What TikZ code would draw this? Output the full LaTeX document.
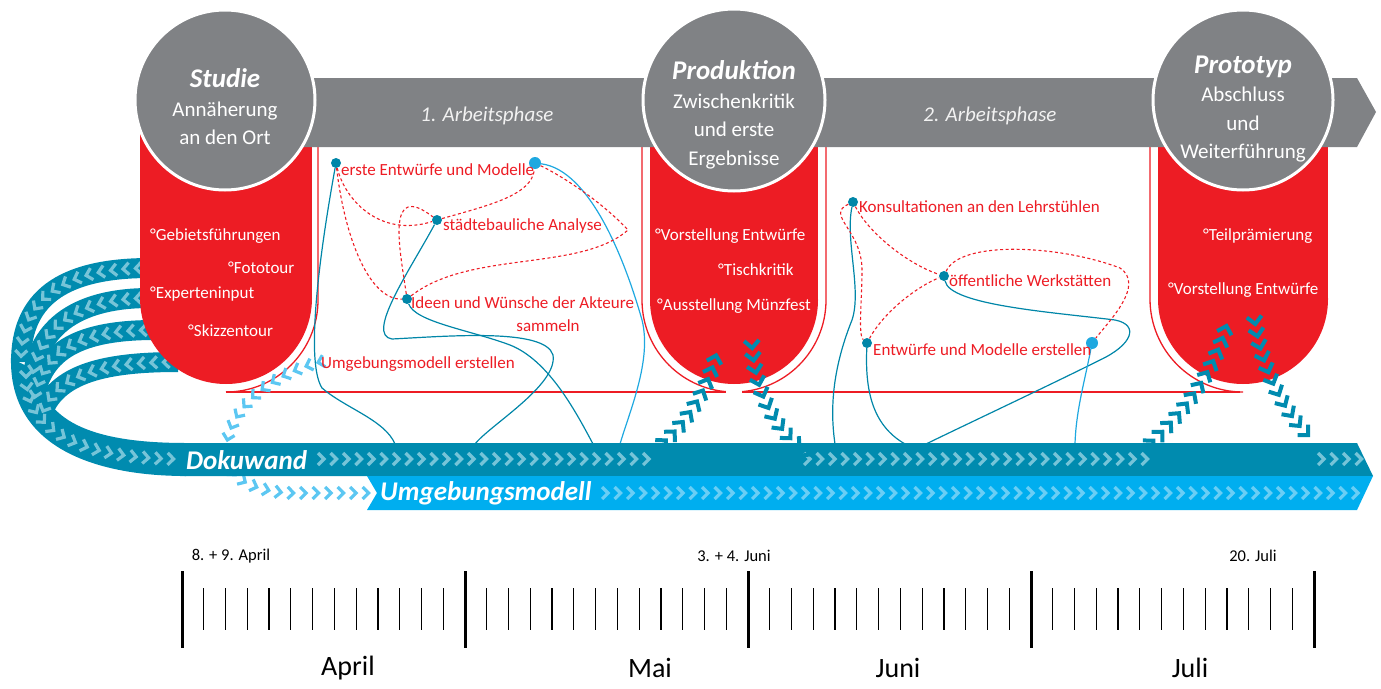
\documentclass[tikz,border=0pt]{standalone}
\usepackage{fontspec}
\setmainfont{Carlito}
\usetikzlibrary{decorations.markings}

\definecolor{phasegrey}{RGB}{128,130,133}
\definecolor{studred}{RGB}{237,28,36}
\definecolor{dokuteal}{RGB}{0,139,175}
\definecolor{modellblue}{RGB}{0,174,239}
\definecolor{chevteal}{RGB}{118,196,216}
\definecolor{chevblue}{RGB}{105,206,245}
\definecolor{freeblue}{RGB}{92,199,242}
\definecolor{linkteal}{RGB}{0,134,168}
\definecolor{linkblue}{RGB}{30,168,224}

\newcommand{\phasetitlefont}{\fontsize{27}{29}\selectfont\bfseries\itshape}

\tikzset{
  chev/.style={line width=3.2pt, line join=miter},
  smallchevs/.style={decorate, decoration={markings,
      mark=between positions 0 and 1 step 12.5pt with {\draw[chev, #1] (-4pt,6pt) -- (2pt,0pt) -- (-4pt,-6pt);}}},
  bigchevs/.style={decorate, decoration={markings,
      mark=between positions 0 and 1 step 12.5pt with {\draw[chev, line width=4pt, #1] (-5.5pt,7.5pt) -- (2pt,0pt) -- (-5.5pt,-7.5pt);}}},
  circtext/.style={white, align=center, font=\fontsize{21}{28.5}\selectfont},
  steptext/.style={white, anchor=west, inner sep=0pt, font=\fontsize{17}{20}\selectfont},
  redlbl/.style={studred, anchor=west, inner sep=0pt, font=\fontsize{17}{20}\selectfont},
  bandlbl/.style={white, anchor=west, inner sep=0pt, font=\fontsize{27}{30}\selectfont\bfseries\itshape},
  arbeitlbl/.style={white!90!gray, font=\fontsize{21}{24}\selectfont\itshape},
  tealdot/.style={circle, fill=linkteal, inner sep=0pt, minimum size=10pt},
  bluedot/.style={circle, fill=linkblue, inner sep=0pt, minimum size=12pt},
  linkline/.style={linkteal, line width=1.2pt},
  bluelink/.style={linkblue, line width=1.2pt},
  dashline/.style={studred, line width=1.1pt, dash pattern=on 3pt off 2.5pt},
  outline/.style={studred, line width=1.3pt},
  majortick/.style={line width=3pt},
  minortick/.style={line width=1.2pt},
  datelbl/.style={font=\fontsize{16.5}{18}\selectfont},
  monthlbl/.style={font=\fontsize{28}{30}\selectfont},
}

\begin{document}
\begin{tikzpicture}[x=1pt, y=-1pt]
\useasboundingbox (0,0) rectangle (1381,688);

% Schleife von der Studie zur Dokuwand
\fill[dokuteal] (11,358) .. controls (9,450) and (100,476) .. (186,476) -- (186,443)
  .. controls (100,443) and (44,425) .. (38,372) -- cycle;
\draw[dokuteal, line width=20pt] (150,268) .. controls (60,268) and (21,300) .. (21,362);
\draw[dokuteal, line width=20pt] (150,298) .. controls (80,298) and (38,325) .. (32,380);
\draw[dokuteal, line width=20pt] (155,330) .. controls (80,330) and (42,350) .. (34,400);
\draw[dokuteal, line width=20pt] (178,362) .. controls (100,362) and (52,375) .. (40,420);
\path[smallchevs=chevteal] (150,268) .. controls (60,268) and (21,300) .. (21,360);
\path[smallchevs=chevteal] (150,298) .. controls (80,298) and (38,325) .. (32,380);
\path[smallchevs=chevteal] (155,330) .. controls (80,330) and (42,350) .. (34,400);
\path[smallchevs=chevteal] (178,362) .. controls (100,362) and (52,375) .. (40,420);
\path[smallchevs=chevteal] (26,375) .. controls (26,445) and (110,459) .. (182,459);

% rote Phasen
\fill[studred] (140,100) rectangle (312,298);
\fill[studred] (226,298) circle[radius=86pt];
\fill[studred] (650,100) rectangle (818,300);
\fill[studred] (734,300) circle[radius=84pt];
\fill[studred] (1158,100) rectangle (1328,299);
\fill[studred] (1243,299) circle[radius=85pt];

\draw[outline, rounded corners=92pt] (318,147) -- (318,392) -- (226,392);
\draw[outline, rounded corners=92pt] (642,147) -- (642,392) -- (826,392) -- (826,147);
\draw[outline, rounded corners=93pt] (1150,147) -- (1150,392) -- (1243,392);
\draw[outline] (226,392) -- (726,392);
\draw[outline] (742,392) -- (1240,392);
\fill[white] (726,387) rectangle (742,397);

% Phasenband
\fill[phasegrey] (250,78) -- (1357,78) -- (1376,112) -- (1357,147) -- (250,147) -- cycle;
\node[arbeitlbl] (ap1) at (487,116) {1. Arbeitsphase};
\node[arbeitlbl] (ap2) at (990,116) {2. Arbeitsphase};

\draw[white, line width=3pt, fill=phasegrey] (225,100) circle[radius=90pt];
\draw[white, line width=3pt, fill=phasegrey] (734,100) circle[radius=91pt];
\draw[white, line width=3pt, fill=phasegrey] (1243,100) circle[radius=90pt];

\node[circtext] (studie) at (225,107) {{\phasetitlefont Studie}\\Annäherung\\an den Ort};
\node[circtext] (produktion) at (734,115) {{\phasetitlefont Produktion}\\Zwischenkritik\\und erste\\Ergebnisse};
\node[circtext] (prototyp) at (1243,109) {{\phasetitlefont Prototyp}\\Abschluss\\und\\Weiterführung};

% Inhalte der Phasen
\node[steptext] (s1) at (150,236) {°Gebietsführungen};
\node[steptext] (s2) at (228,268) {°Fototour};
\node[steptext] (s3) at (150,294) {°Experteninput};
\node[steptext] (s4) at (188,331) {°Skizzentour};
\node[steptext] (p1) at (655,236) {°Vorstellung Entwürfe};
\node[steptext] (p2) at (718,270) {°Tischkritik};
\node[steptext] (p3) at (657,306) {°Ausstellung Münzfest};
\node[steptext] (t1) at (1203,236) {°Teilprämierung};
\node[steptext] (t2) at (1168,290) {°Vorstellung Entwürfe};

% Umgebungsmodell erstellen -> Band
\path[smallchevs=freeblue] (320,362) .. controls (270,375) and (225,410) .. (226,455)
  .. controls (227,480) and (260,493) .. (295,493) -- (368,493);

% Verbindungen zu den Baendern
\coordinate (b1) at (395,444);
\coordinate (b2) at (475,444);
\coordinate (b3) at (593,444);
\coordinate (b4) at (620,444);
\coordinate (b5) at (835,444);
\coordinate (b6) at (905,444);
\coordinate (b7) at (926,444);
\coordinate (b8) at (1075,444);

\node[tealdot] (erste) at (336,163) {};
\node[bluedot] (modelle) at (535,163) {};
\node[tealdot] (analyse) at (437,220) {};
\node[tealdot] (ideen) at (407,299) {};
\node[tealdot] (konsult) at (853,202) {};
\node[tealdot] (werkst) at (944,276) {};
\node[tealdot] (entw) at (867,343) {};
\node[bluedot] (erstellen) at (1092,343) {};

\draw[linkline] (erste) .. controls (322,240) and (304,360) .. (322,388) .. controls (345,408) and (385,420) .. (b1);
\draw[bluelink] (modelle) .. controls (590,170) and (625,260) .. (642,320) .. controls (652,360) and (630,410) .. (b4);
\draw[linkline] (analyse) .. controls (410,270) and (365,335) .. (392,339) .. controls (450,336) and (545,328) .. (553,355) .. controls (558,385) and (490,425) .. (b2);
\draw[linkline] (ideen) .. controls (415,322) and (470,330) .. (510,345) .. controls (548,360) and (575,410) .. (b3);
\draw[linkline] (konsult) .. controls (845,240) and (862,290) .. (852,320) .. controls (832,370) and (830,410) .. (b5);
\draw[linkline] (entw) .. controls (865,390) and (872,425) .. (b6);
\draw[linkline] (werkst) .. controls (950,305) and (1050,312) .. (1115,320) .. controls (1140,325) and (1132,345) .. (1100,360) .. controls (1050,385) and (965,425) .. (b7);
\draw[bluelink] (erstellen) .. controls (1085,380) and (1076,410) .. (b8);

\draw[dashline] (erste) .. controls (345,200) and (380,238) .. (analyse);
\draw[dashline] (analyse) .. controls (490,205) and (532,195) .. (modelle);
\draw[dashline] (erste) .. controls (345,240) and (370,300) .. (ideen);
\draw[dashline] (ideen) .. controls (400,250) and (385,180) .. (analyse);
\draw[dashline] (ideen) .. controls (470,250) and (580,272) .. (628,230) .. controls (600,200) and (560,175) .. (modelle);
\draw[dashline] (konsult) .. controls (825,215) and (862,230) .. (862,270) .. controls (862,300) and (858,335) .. (entw);
\draw[dashline] (konsult) .. controls (870,235) and (910,265) .. (werkst);
\draw[dashline] (entw) .. controls (885,310) and (920,285) .. (werkst);
\draw[dashline] (werkst) .. controls (960,240) and (1060,245) .. (1120,268) .. controls (1145,285) and (1110,320) .. (erstellen);

\node[redlbl] (l1) at (341,170) {erste Entwürfe und Modelle};
\node[redlbl] (l2) at (443,226) {städtebauliche Analyse};
\node[redlbl] (l3) at (411,303) {Ideen und Wünsche der Akteure};
\node[redlbl, anchor=center] (l3b) at (548,326) {sammeln};
\node[redlbl] (l4) at (321,364) {Umgebungsmodell erstellen};
\node[redlbl] (l5) at (859,207) {Konsultationen an den Lehrstühlen};
\node[redlbl] (l6) at (949,281) {öffentliche Werkstätten};
\node[redlbl] (l7) at (873,350) {Entwürfe und Modelle erstellen};

% Baender
\fill[dokuteal] (180,443) -- (1357,443) -- (1373,476) -- (180,476) -- cycle;
\fill[modellblue] (367,476) -- (1373,476) -- (1357,510) -- (367,510) -- (377,493) -- cycle;
\node[bandlbl] (doku) at (186,460) {Dokuwand};
\node[bandlbl] (umgeb) at (380,493) {Umgebungsmodell};

\path[smallchevs=chevteal] (322,459) -- (652,459);
\path[smallchevs=chevteal] (808,459) -- (1150,459);
\path[smallchevs=chevteal] (1322,459) -- (1366,459);
\path[smallchevs=chevblue] (606,493) -- (1364,493);

\path[bigchevs=dokuteal] (655,450) .. controls (685,425) and (706,395) .. (717,352);
\path[bigchevs=dokuteal] (752,346) .. controls (756,395) and (775,430) .. (810,455);
\path[bigchevs=dokuteal] (1152,442) .. controls (1185,410) and (1215,372) .. (1228,320);
\path[bigchevs=dokuteal] (1255,322) .. controls (1262,372) and (1288,420) .. (1316,442);

% Zeitleiste
\foreach \m in {0,...,3}
  \foreach \t in {1,...,12}
    \draw[minortick] ({182+283*\m+283/13*\t},588) -- ++(0,42);
\foreach \m in {0,...,4}
  \draw[majortick] ({182+283*\m},571) -- ++(0,77);

\node[datelbl] (d1) at (231,556) {8. + 9. April};
\node[datelbl] (d2) at (734,556) {3. + 4. Juni};
\node[datelbl] (d3) at (1253,556) {20. Juli};
\node[monthlbl] (apr) at (348,668) {April};
\node[monthlbl] (mai) at (650,668) {Mai};
\node[monthlbl] (jun) at (898,668) {Juni};
\node[monthlbl] (jul) at (1190,668) {Juli};

\end{tikzpicture}
\end{document}
